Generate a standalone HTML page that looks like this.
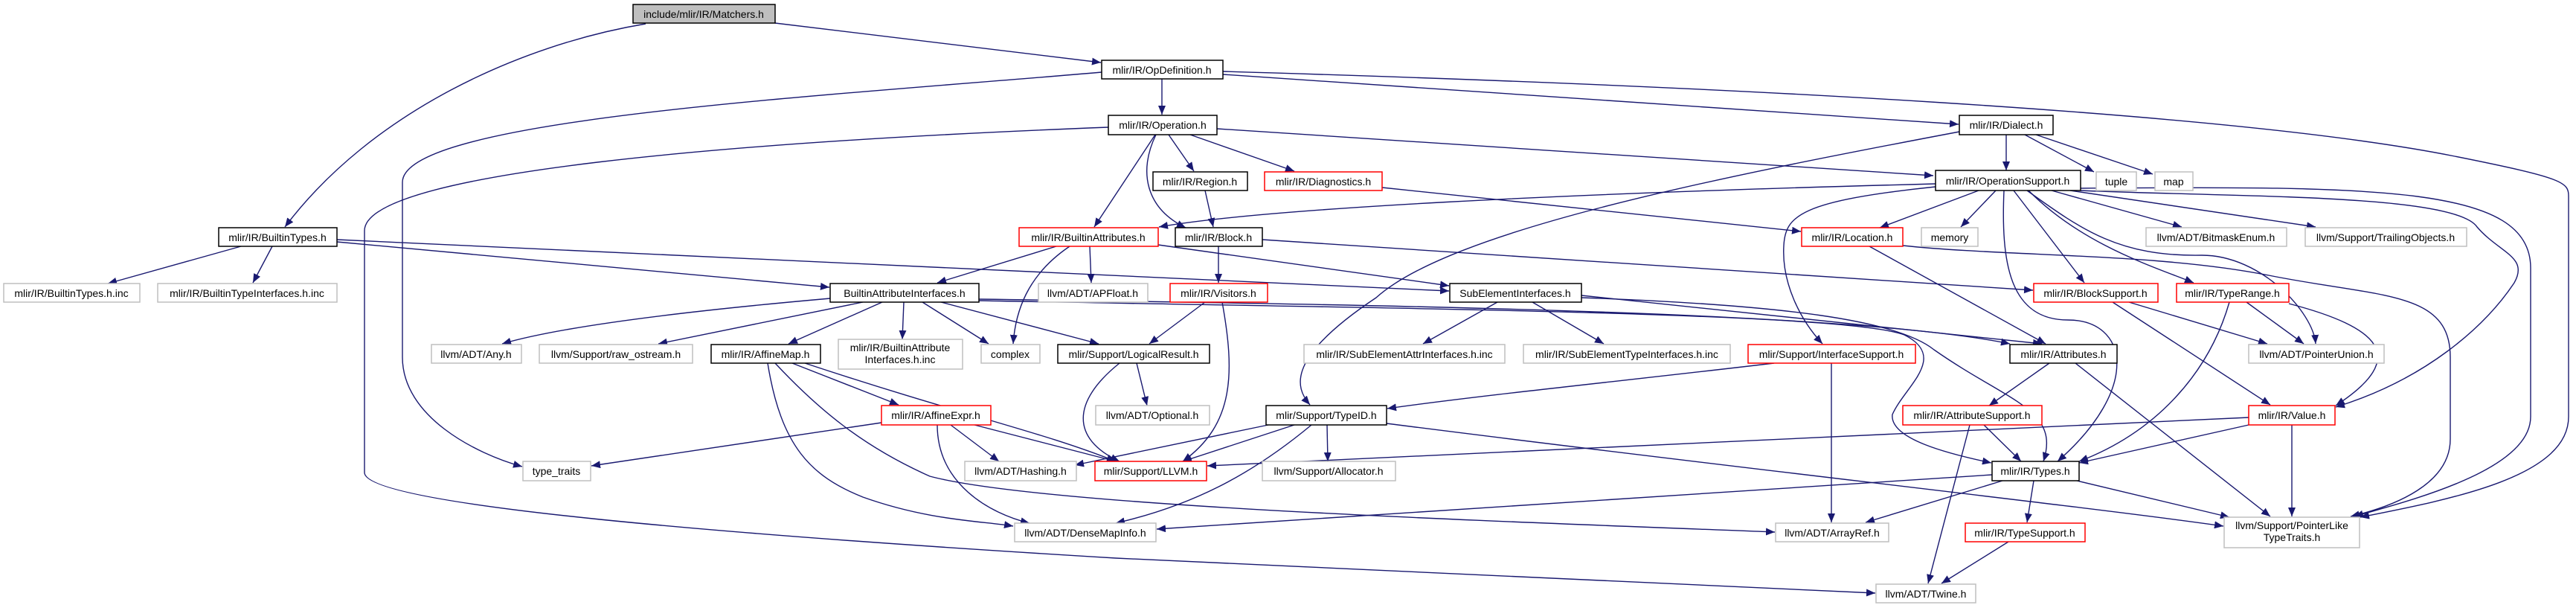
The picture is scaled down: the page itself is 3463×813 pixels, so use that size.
<!DOCTYPE html>
<html><head><meta charset="utf-8"><style>
html,body{margin:0;padding:0;background:#fff;width:3463px;height:813px;overflow:hidden}
svg text{font-family:"Liberation Sans","DejaVu Sans",sans-serif;font-size:14px;fill:#000}
</style></head><body>
<svg width="3463" height="813" viewBox="0 0 3463 813" xmlns="http://www.w3.org/2000/svg">
<defs><marker id="a" markerUnits="userSpaceOnUse" markerWidth="14" markerHeight="12" refX="12" refY="5" orient="auto"><path d="M0,0 L12,5 L0,10 z" fill="#191970"/></marker></defs>
<g fill="none" stroke="#191970" stroke-width="1.4" marker-end="url(#a)">
<path d="M868,32 C700,60 500,150 383,305"/>
<path d="M1042,31 L1480,84"/>
<path d="M1562,106 L1562,154"/>
<path d="M1481,97 C1100,130 541,160 541,245 L541,480 C541,560 640,610 702,627"/>
<path d="M1644,100 L2633,167"/>
<path d="M1644,96 C2300,115 3000,150 3300,210 C3450,240 3453,245 3453,265 L3453,560 C3453,640 3300,670 3173,695"/>
<path d="M1490,171 C1000,190 490,230 490,310 L490,635 C490,680 1000,720 1500,750 L2521,797"/>
<path d="M1571,181 L1605,230"/>
<path d="M1600,181 L1740,230"/>
<path d="M1553,181 L1471,305"/>
<path d="M1554,181 C1530,230 1540,280 1594,306"/>
<path d="M1636,173 L2599,236"/>
<path d="M1620,256 L1631,305"/>
<path d="M1858,252 L2421,311"/>
<path d="M2697,181 L2697,229"/>
<path d="M2722,181 L2815,231"/>
<path d="M2737,181 L2894,234"/>
<path d="M2634,177 C2300,240 1950,310 1850,400 C1730,480 1740,520 1761,544"/>
<path d="M2602,247 C2100,260 1700,280 1558,305"/>
<path d="M2660,256 L2527,306"/>
<path d="M2683,256 L2636,305"/>
<path d="M2758,256 L2933,305"/>
<path d="M2783,256 L3113,305"/>
<path d="M2707,256 L2802,380"/>
<path d="M2727,256 C2800,330 2900,360 2949,380"/>
<path d="M2725,256 C2800,310 2850,345 2960,343 C3040,343 3110,420 3113,462"/>
<path d="M2694,256 C2690,350 2700,430 2780,430 C2860,430 2880,520 2766,620"/>
<path d="M2797,256 C3000,265 3300,260 3330,305 C3360,340 3400,345 3380,380 C3340,440 3260,510 3140,547"/>
<path d="M2797,253 C3200,250 3402,250 3402,360 L3402,560 C3402,630 3250,670 3165,694"/>
<path d="M2602,251 C2420,270 2400,290 2398,330 C2395,380 2420,430 2450,462"/>
<path d="M324,331 L145,381"/>
<path d="M366,331 L340,380"/>
<path d="M453,325 L1115,386"/>
<path d="M453,322 L1948,391"/>
<path d="M1420,331 L1260,380"/>
<path d="M1465,331 L1467,380"/>
<path d="M1438,331 C1380,370 1365,420 1362,462"/>
<path d="M1557,329 L1948,384"/>
<path d="M1638,331 L1638,380"/>
<path d="M1697,322 L2733,390"/>
<path d="M1116,401 C900,420 750,440 675,462"/>
<path d="M1160,406 L885,462"/>
<path d="M1186,406 L1060,462"/>
<path d="M1215,406 L1213,456"/>
<path d="M1240,406 L1329,462"/>
<path d="M1265,406 L1477,462"/>
<path d="M1316,402 C1900,410 2500,420 2702,462"/>
<path d="M1316,404 C1900,415 2480,420 2560,450 C2620,480 2560,520 2544,557 C2540,590 2620,610 2677,622"/>
<path d="M2126,397 L2745,462"/>
<path d="M2126,400 C2400,410 2550,430 2600,470 C2700,540 2770,550 2747,620"/>
<path d="M1065,488 L1208,544"/>
<path d="M1082,488 C1300,560 1400,580 1500,620"/>
<path d="M1032,488 C1050,600 1090,640 1160,668 C1250,700 1320,700 1362,707"/>
<path d="M1042,488 C1100,550 1160,600 1250,640 C1400,680 2000,700 2386,715"/>
<path d="M1185,568 L795,626"/>
<path d="M1278,571 L1343,620"/>
<path d="M1310,571 L1500,620"/>
<path d="M1260,571 C1260,650 1330,690 1384,703"/>
<path d="M1505,488 C1440,540 1440,590 1505,620"/>
<path d="M1528,488 L1542,545"/>
<path d="M1643,406 C1660,500 1660,570 1590,620"/>
<path d="M1620,406 L1545,462"/>
<path d="M1705,571 L1445,625"/>
<path d="M1740,571 L1590,620"/>
<path d="M1784,571 L1785,620"/>
<path d="M1763,571 C1680,640 1600,680 1500,703"/>
<path d="M1864,569 C2300,625 2800,680 2989,707"/>
<path d="M2013,406 L1913,462"/>
<path d="M2060,406 L2156,462"/>
<path d="M2385,488 C2200,510 2000,530 1865,549"/>
<path d="M2462,488 L2462,702"/>
<path d="M2513,331 L2750,462"/>
<path d="M2558,330 C2700,345 2900,340 3050,370 C3200,400 3294,390 3294,480 L3294,590 C3294,650 3220,680 3160,694"/>
<path d="M2862,406 L3048,462"/>
<path d="M2840,406 L3052,544"/>
<path d="M3020,406 L3097,462"/>
<path d="M3077,408 C3200,440 3240,480 3140,545"/>
<path d="M2997,406 C2970,500 2900,580 2795,620"/>
<path d="M2755,488 L2674,545"/>
<path d="M2790,488 L3052,694"/>
<path d="M2667,571 L2717,620"/>
<path d="M2648,571 L2592,784"/>
<path d="M3023,571 L2795,622"/>
<path d="M3081,571 L3081,694"/>
<path d="M3023,561 L1623,626"/>
<path d="M2692,646 L2508,702"/>
<path d="M2734,646 L2725,702"/>
<path d="M2792,646 L2997,695"/>
<path d="M2678,638 L1555,711"/>
<path d="M2700,728 L2610,784"/>
</g>
<g stroke-width="1.5" text-anchor="middle">
<!-- nodes: rect then text -->
<rect x="851" y="6" width="191" height="25" fill="#bfbfbf" stroke="#000"/><text x="946" y="24">include/mlir/IR/Matchers.h</text>
<rect x="1481" y="81" width="163" height="25" fill="#fff" stroke="#000"/><text x="1562" y="99">mlir/IR/OpDefinition.h</text>
<rect x="1490" y="155" width="146" height="26" fill="#fff" stroke="#000"/><text x="1563" y="173">mlir/IR/Operation.h</text>
<rect x="2634" y="155" width="126" height="26" fill="#fff" stroke="#000"/><text x="2697" y="173">mlir/IR/Dialect.h</text>
<rect x="1550" y="231" width="127" height="25" fill="#fff" stroke="#000"/><text x="1613" y="249">mlir/IR/Region.h</text>
<rect x="1700" y="231" width="158" height="25" fill="#fff" stroke="#f00"/><text x="1779" y="249">mlir/IR/Diagnostics.h</text>
<rect x="2602" y="229" width="195" height="27" fill="#fff" stroke="#000"/><text x="2699" y="248">mlir/IR/OperationSupport.h</text>
<rect x="2818" y="231" width="54" height="25" fill="#fff" stroke="#bfbfbf"/><text x="2845" y="249">tuple</text>
<rect x="2897" y="231" width="51" height="25" fill="#fff" stroke="#bfbfbf"/><text x="2922" y="249">map</text>
<rect x="294" y="306" width="159" height="25" fill="#fff" stroke="#000"/><text x="373" y="324">mlir/IR/BuiltinTypes.h</text>
<rect x="1370" y="306" width="187" height="25" fill="#fff" stroke="#f00"/><text x="1463" y="324">mlir/IR/BuiltinAttributes.h</text>
<rect x="1580" y="306" width="117" height="25" fill="#fff" stroke="#000"/><text x="1638" y="324">mlir/IR/Block.h</text>
<rect x="2422" y="306" width="136" height="25" fill="#fff" stroke="#f00"/><text x="2490" y="324">mlir/IR/Location.h</text>
<rect x="2583" y="306" width="76" height="25" fill="#fff" stroke="#bfbfbf"/><text x="2621" y="324">memory</text>
<rect x="2885" y="306" width="189" height="25" fill="#fff" stroke="#bfbfbf"/><text x="2979" y="324">llvm/ADT/BitmaskEnum.h</text>
<rect x="3099" y="306" width="217" height="25" fill="#fff" stroke="#bfbfbf"/><text x="3207" y="324">llvm/Support/TrailingObjects.h</text>
<rect x="5" y="381" width="183" height="25" fill="#fff" stroke="#bfbfbf"/><text x="96" y="399">mlir/IR/BuiltinTypes.h.inc</text>
<rect x="212" y="381" width="241" height="25" fill="#fff" stroke="#bfbfbf"/><text x="332" y="399">mlir/IR/BuiltinTypeInterfaces.h.inc</text>
<rect x="1116" y="381" width="200" height="25" fill="#fff" stroke="#000"/><text x="1216" y="399">BuiltinAttributeInterfaces.h</text>
<rect x="1396" y="381" width="147" height="25" fill="#fff" stroke="#bfbfbf"/><text x="1469" y="399">llvm/ADT/APFloat.h</text>
<rect x="1573" y="381" width="131" height="25" fill="#fff" stroke="#f00"/><text x="1638" y="399">mlir/IR/Visitors.h</text>
<rect x="1949" y="381" width="177" height="25" fill="#fff" stroke="#000"/><text x="2037" y="399">SubElementInterfaces.h</text>
<rect x="2734" y="381" width="167" height="25" fill="#fff" stroke="#f00"/><text x="2817" y="399">mlir/IR/BlockSupport.h</text>
<rect x="2926" y="381" width="151" height="25" fill="#fff" stroke="#f00"/><text x="3001" y="399">mlir/IR/TypeRange.h</text>
<rect x="580" y="463" width="121" height="25" fill="#fff" stroke="#bfbfbf"/><text x="640" y="481">llvm/ADT/Any.h</text>
<rect x="725" y="463" width="206" height="25" fill="#fff" stroke="#bfbfbf"/><text x="828" y="481">llvm/Support/raw_ostream.h</text>
<rect x="956" y="463" width="147" height="25" fill="#fff" stroke="#000"/><text x="1029" y="481">mlir/IR/AffineMap.h</text>
<rect x="1127" y="456" width="167" height="40" fill="#fff" stroke="#bfbfbf"/><text x="1210" y="472">mlir/IR/BuiltinAttribute</text><text x="1210" y="488">Interfaces.h.inc</text>
<rect x="1319" y="463" width="79" height="25" fill="#fff" stroke="#bfbfbf"/><text x="1358" y="481">complex</text>
<rect x="1422" y="463" width="204" height="25" fill="#fff" stroke="#000"/><text x="1524" y="481">mlir/Support/LogicalResult.h</text>
<rect x="1753" y="463" width="270" height="25" fill="#fff" stroke="#bfbfbf"/><text x="1888" y="481">mlir/IR/SubElementAttrInterfaces.h.inc</text>
<rect x="2048" y="463" width="278" height="25" fill="#fff" stroke="#bfbfbf"/><text x="2187" y="481">mlir/IR/SubElementTypeInterfaces.h.inc</text>
<rect x="2350" y="463" width="225" height="25" fill="#fff" stroke="#f00"/><text x="2462" y="481">mlir/Support/InterfaceSupport.h</text>
<rect x="2702" y="463" width="144" height="25" fill="#fff" stroke="#000"/><text x="2774" y="481">mlir/IR/Attributes.h</text>
<rect x="3023" y="463" width="182" height="25" fill="#fff" stroke="#bfbfbf"/><text x="3114" y="481">llvm/ADT/PointerUnion.h</text>
<rect x="1185" y="545" width="147" height="26" fill="#fff" stroke="#f00"/><text x="1258" y="563">mlir/IR/AffineExpr.h</text>
<rect x="1473" y="545" width="153" height="26" fill="#fff" stroke="#bfbfbf"/><text x="1549" y="563">llvm/ADT/Optional.h</text>
<rect x="1702" y="545" width="162" height="26" fill="#fff" stroke="#000"/><text x="1783" y="563">mlir/Support/TypeID.h</text>
<rect x="2558" y="545" width="187" height="26" fill="#fff" stroke="#f00"/><text x="2651" y="563">mlir/IR/AttributeSupport.h</text>
<rect x="3023" y="545" width="116" height="26" fill="#fff" stroke="#f00"/><text x="3081" y="563">mlir/IR/Value.h</text>
<rect x="703" y="620" width="91" height="26" fill="#fff" stroke="#bfbfbf"/><text x="748" y="638">type_traits</text>
<rect x="1297" y="620" width="150" height="26" fill="#fff" stroke="#bfbfbf"/><text x="1372" y="638">llvm/ADT/Hashing.h</text>
<rect x="1472" y="620" width="150" height="26" fill="#fff" stroke="#f00"/><text x="1547" y="638">mlir/Support/LLVM.h</text>
<rect x="1697" y="620" width="179" height="26" fill="#fff" stroke="#bfbfbf"/><text x="1786" y="638">llvm/Support/Allocator.h</text>
<rect x="2678" y="620" width="117" height="26" fill="#fff" stroke="#000"/><text x="2736" y="638">mlir/IR/Types.h</text>
<rect x="1364" y="703" width="190" height="25" fill="#fff" stroke="#bfbfbf"/><text x="1459" y="721">llvm/ADT/DenseMapInfo.h</text>
<rect x="2387" y="703" width="152" height="25" fill="#fff" stroke="#bfbfbf"/><text x="2463" y="721">llvm/ADT/ArrayRef.h</text>
<rect x="2642" y="703" width="161" height="25" fill="#fff" stroke="#f00"/><text x="2722" y="721">mlir/IR/TypeSupport.h</text>
<rect x="2990" y="695" width="182" height="41" fill="#fff" stroke="#bfbfbf"/><text x="3081" y="711">llvm/Support/PointerLike</text><text x="3081" y="727">TypeTraits.h</text>
<rect x="2522" y="785" width="134" height="25" fill="#fff" stroke="#bfbfbf"/><text x="2589" y="803">llvm/ADT/Twine.h</text>
</g>
</svg>
</body></html>
